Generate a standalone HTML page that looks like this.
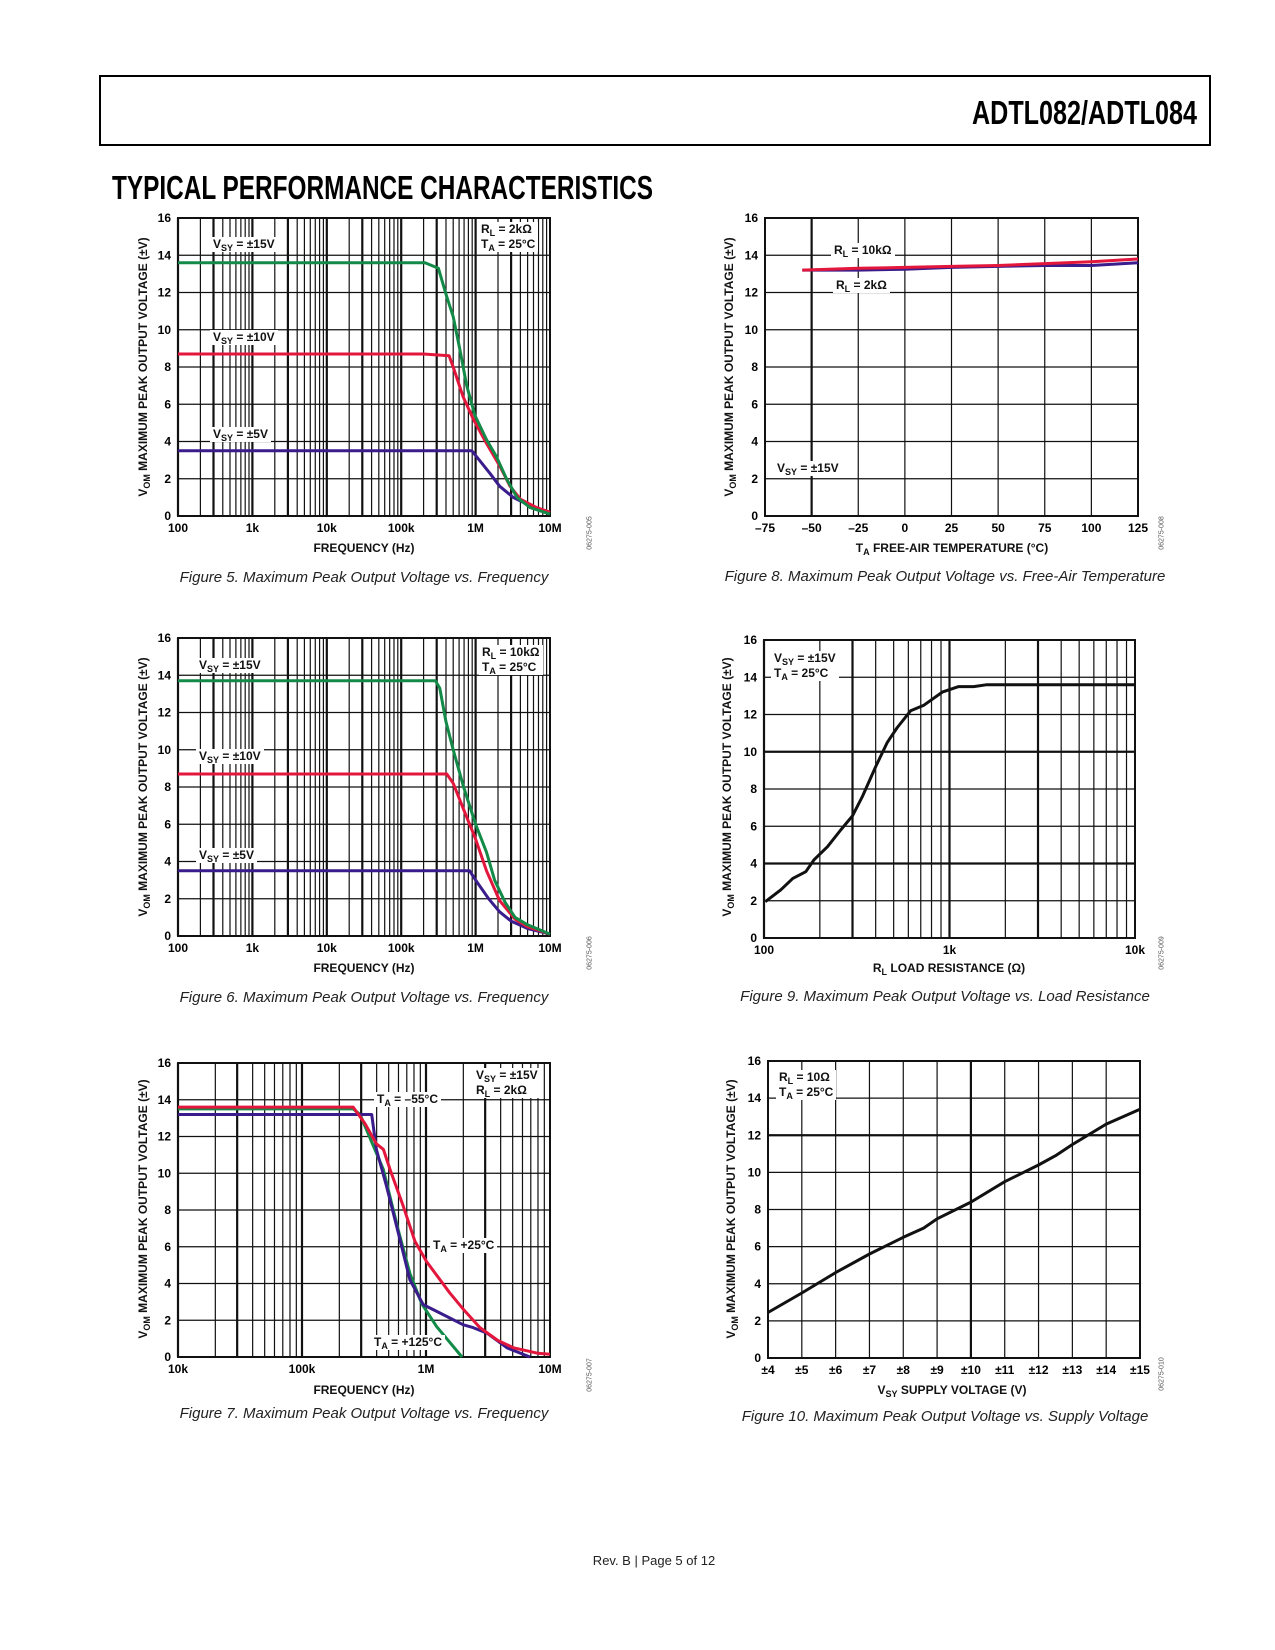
<!DOCTYPE html>
<html><head><meta charset="utf-8">
<style>
html,body{margin:0;padding:0;background:#fff;}
body{width:1275px;height:1650px;position:relative;overflow:hidden;font-family:"Liberation Sans",Arial,sans-serif;}
.lbl{position:absolute;background:#fff;font:bold 12px "Liberation Sans",sans-serif;color:#111;line-height:15px;padding:0 3px;white-space:nowrap;}
.lbl sub{font-size:9px;vertical-align:-3px;line-height:0;}
.ytitle{position:absolute;font:bold 12px "Liberation Sans",sans-serif;color:#111;white-space:nowrap;transform:translate(-50%,-50%) rotate(-90deg);}
.ytitle sub,.xtitle sub{font-size:9px;vertical-align:-3px;line-height:0;}
.xtitle{position:absolute;font:bold 12px "Liberation Sans",sans-serif;color:#111;white-space:nowrap;transform:translateX(-50%);}
.cap{position:absolute;font:italic 15px "Liberation Sans",sans-serif;color:#222;white-space:nowrap;transform:translateX(-50%);}
.code{position:absolute;font:7px "Liberation Sans",sans-serif;color:#555;transform:translate(-50%,-50%) rotate(-90deg);white-space:nowrap;}
</style></head>
<body>
<svg id="page" width="1275" height="1650" style="position:absolute;left:0;top:0">
  <rect x="100" y="76" width="1110" height="69" fill="none" stroke="#000" stroke-width="2"/>
  <text x="1197" y="124" text-anchor="end" font-family="Liberation Sans Narrow, Liberation Sans, sans-serif" font-weight="bold" font-size="33" textLength="225" lengthAdjust="spacingAndGlyphs">ADTL082/ADTL084</text>
  <text x="112" y="199" font-family="Liberation Sans Narrow, Liberation Sans, sans-serif" font-weight="bold" font-size="33" textLength="541" lengthAdjust="spacingAndGlyphs">TYPICAL PERFORMANCE CHARACTERISTICS</text>
  <g id="charts"></g>
</svg>

<!-- Figure 5 labels -->
<div class="ytitle" style="left:143px;top:367px">V<sub>OM</sub> MAXIMUM PEAK OUTPUT VOLTAGE (±V)</div>
<div class="xtitle" style="left:364px;top:541px">FREQUENCY (Hz)</div>
<div class="lbl" style="left:210px;top:237px">V<sub>SY</sub> = ±15V</div>
<div class="lbl" style="left:210px;top:330px">V<sub>SY</sub> = ±10V</div>
<div class="lbl" style="left:210px;top:427px">V<sub>SY</sub> = ±5V</div>
<div class="lbl" style="left:478px;top:222px">R<sub>L</sub> = 2kΩ<br>T<sub>A</sub> = 25°C</div>
<div class="cap" style="left:364px;top:569px">Figure 5. Maximum Peak Output Voltage vs. Frequency</div>
<div class="code" style="left:590px;top:533px">06275-005</div>

<!-- Figure 8 labels -->
<div class="ytitle" style="left:729px;top:367px">V<sub>OM</sub> MAXIMUM PEAK OUTPUT VOLTAGE (±V)</div>
<div class="xtitle" style="left:952px;top:541px">T<sub>A</sub> FREE-AIR TEMPERATURE (°C)</div>
<div class="lbl" style="left:831px;top:243px">R<sub>L</sub> = 10kΩ</div>
<div class="lbl" style="left:833px;top:278px">R<sub>L</sub> = 2kΩ</div>
<div class="lbl" style="left:774px;top:461px">V<sub>SY</sub> = ±15V</div>
<div class="cap" style="left:945px;top:568px">Figure 8. Maximum Peak Output Voltage vs. Free-Air Temperature</div>
<div class="code" style="left:1162px;top:533px">06275-008</div>

<!-- Figure 6 labels -->
<div class="ytitle" style="left:143px;top:787px">V<sub>OM</sub> MAXIMUM PEAK OUTPUT VOLTAGE (±V)</div>
<div class="xtitle" style="left:364px;top:961px">FREQUENCY (Hz)</div>
<div class="lbl" style="left:196px;top:658px">V<sub>SY</sub> = ±15V</div>
<div class="lbl" style="left:196px;top:749px">V<sub>SY</sub> = ±10V</div>
<div class="lbl" style="left:196px;top:848px">V<sub>SY</sub> = ±5V</div>
<div class="lbl" style="left:479px;top:645px">R<sub>L</sub> = 10kΩ<br>T<sub>A</sub> = 25°C</div>
<div class="cap" style="left:364px;top:989px">Figure 6. Maximum Peak Output Voltage vs. Frequency</div>
<div class="code" style="left:590px;top:953px">06275-006</div>

<!-- Figure 9 labels -->
<div class="ytitle" style="left:727px;top:787px">V<sub>OM</sub> MAXIMUM PEAK OUTPUT VOLTAGE (±V)</div>
<div class="xtitle" style="left:949px;top:961px">R<sub>L</sub> LOAD RESISTANCE (Ω)</div>
<div class="lbl" style="left:771px;top:651px">V<sub>SY</sub> = ±15V<br>T<sub>A</sub> = 25°C</div>
<div class="cap" style="left:945px;top:988px">Figure 9. Maximum Peak Output Voltage vs. Load Resistance</div>
<div class="code" style="left:1162px;top:953px">06275-009</div>

<!-- Figure 7 labels -->
<div class="ytitle" style="left:143px;top:1209px">V<sub>OM</sub> MAXIMUM PEAK OUTPUT VOLTAGE (±V)</div>
<div class="xtitle" style="left:364px;top:1383px">FREQUENCY (Hz)</div>
<div class="lbl" style="left:473px;top:1068px">V<sub>SY</sub> = ±15V<br>R<sub>L</sub> = 2kΩ</div>
<div class="lbl" style="left:374px;top:1092px">T<sub>A</sub> = –55°C</div>
<div class="lbl" style="left:430px;top:1238px">T<sub>A</sub> = +25°C</div>
<div class="lbl" style="left:371px;top:1335px">T<sub>A</sub> = +125°C</div>
<div class="cap" style="left:364px;top:1405px">Figure 7. Maximum Peak Output Voltage vs. Frequency</div>
<div class="code" style="left:590px;top:1375px">06275-007</div>

<!-- Figure 10 labels -->
<div class="ytitle" style="left:731px;top:1209px">V<sub>OM</sub> MAXIMUM PEAK OUTPUT VOLTAGE (±V)</div>
<div class="xtitle" style="left:952px;top:1383px">V<sub>SY</sub> SUPPLY VOLTAGE (V)</div>
<div class="lbl" style="left:776px;top:1070px">R<sub>L</sub> = 10Ω<br>T<sub>A</sub> = 25°C</div>
<div class="cap" style="left:945px;top:1408px">Figure 10. Maximum Peak Output Voltage vs. Supply Voltage</div>
<div class="code" style="left:1162px;top:1374px">06275-010</div>

<div style="position:absolute;left:654px;top:1553px;transform:translateX(-50%);font:13px 'Liberation Sans',sans-serif;color:#222;white-space:nowrap">Rev. B | Page 5 of 12</div>

<script>
// ---- data ----
const yTickVals = [0,2,4,6,8,10,12,14,16];
const yTickLabels = ['0','2','4','6','8','10','12','14','16'];

const fig5XTickVals = [1e2,1e3,1e4,1e5,1e6,1e7];
const fig5XTickLabels = ['100','1k','10k','100k','1M','10M'];
const fig5GreenF = [100,209e3,316e3,407e3,500e3,617e3,760e3,980e3,1.4e6,1.9e6,2.6e6,3.6e6,5.4e6,10e6];
const fig5GreenV = [13.6,13.6,13.3,11.8,10.7,8.9,7.0,5.4,4.1,3.2,2.0,1.0,0.45,0.1];
const fig5RedF = [100,200e3,440e3,500e3,680e3,930e3,1.4e6,2.1e6,2.9e6,4e6,6.6e6,10e6];
const fig5RedV = [8.7,8.7,8.6,8.0,6.4,5.2,3.9,2.7,1.6,0.9,0.45,0.2];
const fig5PurpleF = [100,890e3,1.15e6,1.55e6,2.1e6,3.2e6,5.4e6,10e6];
const fig5PurpleV = [3.5,3.5,2.95,2.3,1.6,1.0,0.55,0.2];

const fig6XTickVals = [1e2,1e3,1e4,1e5,1e6,1e7];
const fig6XTickLabels = ['100','1k','10k','100k','1M','10M'];
const fig6GreenF = [100,288e3,330e3,400e3,500e3,690e3,1e6,1.4e6,1.8e6,2.5e6,3.4e6,5e6,10e6];
const fig6GreenV = [13.7,13.7,13.3,11.5,10,8,6,4.5,3,1.8,1,0.6,0.1];
const fig6RedF = [100,410e3,500e3,690e3,1e6,1.4e6,2.1e6,3.4e6,5e6,10e6];
const fig6RedV = [8.7,8.7,8.2,6.8,5.2,3.5,1.9,0.9,0.5,0.1];
const fig6PurpleF = [100,830e3,1e6,1.5e6,2.1e6,3e6,5e6,10e6];
const fig6PurpleV = [3.5,3.5,3.0,2.0,1.3,0.8,0.4,0.1];

const fig7XTickVals = [1e4,1e5,1e6,1e7];
const fig7XTickLabels = ['10k','100k','1M','10M'];
const fig7GreenF = [10e3,259e3,294e3,365e3,453e3,513e3,598e3,742e3,923e3,1.22e6,1.6e6,1.95e6];
const fig7GreenV = [13.5,13.5,13.2,11.7,10.2,8.7,6.9,4.55,2.9,1.65,0.7,0];
const fig7PurpleF = [10e3,365e3,398e3,480e3,580e3,742e3,950e3,1.29e6,2.0e6,2.4e6,3.1e6,4.5e6,6.9e6];
const fig7PurpleV = [13.2,13.2,11.3,9.3,7.1,4.2,2.85,2.4,1.75,1.6,1.3,0.5,0];
const fig7RedF = [10e3,259e3,322e3,398e3,453e3,513e3,656e3,813e3,1.01e6,1.55e6,2.0e6,2.72e6,3.8e6,5.1e6,8e6,10e6];
const fig7RedV = [13.6,13.6,12.7,11.6,11.3,10.2,8.2,6.3,5.2,3.5,2.6,1.6,0.9,0.5,0.2,0.15];

const fig8XTickVals = [-75,-50,-25,0,25,50,75,100,125];
const fig8XTickLabels = ['–75','–50','–25','0','25','50','75','100','125'];
const fig8Temp = [-55,-25,0,25,50,75,100,125];
const fig8V10k = [13.2,13.3,13.35,13.4,13.45,13.55,13.65,13.8];
const fig8V2k = [13.2,13.2,13.25,13.35,13.4,13.45,13.45,13.6];

const fig9XTickVals = [100,1000,10000];
const fig9XTickLabels = ['100','1k','10k'];
const fig9R = [101.6,123,143,168,186,220,259,300,339,400,462,523,617,728,915,1120,1350,1590,3000,10000];
const fig9V = [1.95,2.58,3.2,3.56,4.2,4.9,5.8,6.56,7.6,9.2,10.5,11.3,12.2,12.5,13.2,13.5,13.5,13.6,13.6,13.6];

const fig10XTickVals = [4,5,6,7,8,9,10,11,12,13,14,15];
const fig10XTickLabels = ['±4','±5','±6','±7','±8','±9','±10','±11','±12','±13','±14','±15'];
const fig10Vsy = [4,5,6,7,8,8.6,9,10,11,12,12.5,13,14,15];
const fig10V = [2.45,3.5,4.6,5.6,6.5,7.0,7.5,8.4,9.5,10.4,10.9,11.5,12.6,13.4];

// ---- drawing ----
const NS='http://www.w3.org/2000/svg';
const root=document.getElementById('charts');
function mk(tag,parent){const e=document.createElementNS(NS,tag);parent.appendChild(e);return e;}

function makeChart(name,L,T,R,B,xmin,xmax,isLog){
  const g=mk('g',root);
  
  
  const lx=v=>Math.log10(v);
  const xs=isLog? v=>L+(lx(v)-lx(xmin))/(lx(xmax)-lx(xmin))*(R-L) : v=>L+(v-xmin)/(xmax-xmin)*(R-L);
  const ys=v=>B-(v/16)*(B-T);
  return {g,xs,ys,L,T,R,B,xmin,xmax,isLog};
}
function line(c,x1,y1,x2,y2,w,name){
  const l=mk('line',c.g);
  l.setAttribute('x1',x1);l.setAttribute('y1',y1);l.setAttribute('x2',x2);l.setAttribute('y2',y2);
  l.setAttribute('stroke','#111');l.setAttribute('stroke-width',w);
  
  
}
function grid(c,thickVals,thickY){
  for(const v of yTickVals){ const y=c.ys(v); line(c,c.L,y,c.R,y,(thickY.indexOf(v)>=0)?2.2:1.2,'h-gridline'); }
  if(c.isLog){
    for(let d=Math.floor(Math.log10(c.xmin)); d<Math.log10(c.xmax); d++){
      for(let k=1;k<=9;k++){ const v=k*Math.pow(10,d); if(v<c.xmin||v>c.xmax) continue;
        line(c,c.xs(v),c.T,c.xs(v),c.B,(k===1||k===3)?2.2:1.2,'v-gridline'); }
    }
  } else {
    for(const v of c.vgrid){ line(c,c.xs(v),c.T,c.xs(v),c.B,(thickVals.indexOf(v)>=0)?2.2:1.2,'v-gridline'); }
  }
  const r=mk('rect',c.g);
  r.setAttribute('x',c.L);r.setAttribute('y',c.T);r.setAttribute('width',c.R-c.L);r.setAttribute('height',c.B-c.T);
  r.setAttribute('fill','none');r.setAttribute('stroke','#111');r.setAttribute('stroke-width',2);
  
  
}
function ticks(c,xv,xl){
  yTickVals.forEach((v,i)=>{ const t=mk('text',c.g);
    t.setAttribute('x',c.L-7);t.setAttribute('y',c.ys(v)+4);t.setAttribute('text-anchor','end');
    t.setAttribute('font-family','Liberation Sans, sans-serif');t.setAttribute('font-weight','bold');t.setAttribute('font-size','12');
    t.textContent=yTickLabels[i];
    
     });
  xv.forEach((v,i)=>{ const t=mk('text',c.g);
    t.setAttribute('x',c.xs(v));t.setAttribute('y',c.B+16);t.setAttribute('text-anchor','middle');
    t.setAttribute('font-family','Liberation Sans, sans-serif');t.setAttribute('font-weight','bold');t.setAttribute('font-size','12');
    t.textContent=xl[i];
    
     });
}
function series(c,xa,ya,color,name){
  const p=mk('polyline',c.g);
  p.setAttribute('points',xa.map((x,i)=>c.xs(x).toFixed(1)+','+c.ys(ya[i]).toFixed(1)).join(' '));
  p.setAttribute('fill','none');p.setAttribute('stroke',color);p.setAttribute('stroke-width',3);
  p.setAttribute('stroke-linejoin','round');
  
  
}
const GREEN='#138a48', RED='#e3163c', PURPLE='#3a1c8c', BLACK='#111';

// Fig 5
let c=makeChart('fig5-chart',178,218,550,516,1e2,1e7,true);
grid(c,[],[]); ticks(c,fig5XTickVals,fig5XTickLabels);
series(c,fig5PurpleF,fig5PurpleV,PURPLE,'fig5-series-5v');
series(c,fig5RedF,fig5RedV,RED,'fig5-series-10v');
series(c,fig5GreenF,fig5GreenV,GREEN,'fig5-series-15v');

// Fig 6
c=makeChart('fig6-chart',178,638,550,936,1e2,1e7,true);
grid(c,[],[]); ticks(c,fig6XTickVals,fig6XTickLabels);
series(c,fig6PurpleF,fig6PurpleV,PURPLE,'fig6-series-5v');
series(c,fig6RedF,fig6RedV,RED,'fig6-series-10v');
series(c,fig6GreenF,fig6GreenV,GREEN,'fig6-series-15v');

// Fig 7
c=makeChart('fig7-chart',178,1063,550,1357,1e4,1e7,true);
grid(c,[],[]); ticks(c,fig7XTickVals,fig7XTickLabels);
series(c,fig7GreenF,fig7GreenV,GREEN,'fig7-series-125c');
series(c,fig7PurpleF,fig7PurpleV,PURPLE,'fig7-series-m55c');
series(c,fig7RedF,fig7RedV,RED,'fig7-series-25c');

// Fig 8
c=makeChart('fig8-chart',765,218,1138,516,-75,125,false);
c.vgrid=fig8XTickVals;
grid(c,[-50],[]); ticks(c,fig8XTickVals,fig8XTickLabels);
series(c,fig8Temp,fig8V2k,PURPLE,'fig8-series-2k');
series(c,fig8Temp,fig8V10k,RED,'fig8-series-10k');

// Fig 9
c=makeChart('fig9-chart',764,640,1135,938,100,10000,true);
grid(c,[],[4,10]); ticks(c,fig9XTickVals,fig9XTickLabels);
series(c,fig9R,fig9V,BLACK,'fig9-series');

// Fig 10
c=makeChart('fig10-chart',768,1061,1140,1358,4,15,false);
c.vgrid=fig10XTickVals;
grid(c,[10],[12]); ticks(c,fig10XTickVals,fig10XTickLabels);
series(c,fig10Vsy,fig10V,BLACK,'fig10-series');
</script>
</body></html>
